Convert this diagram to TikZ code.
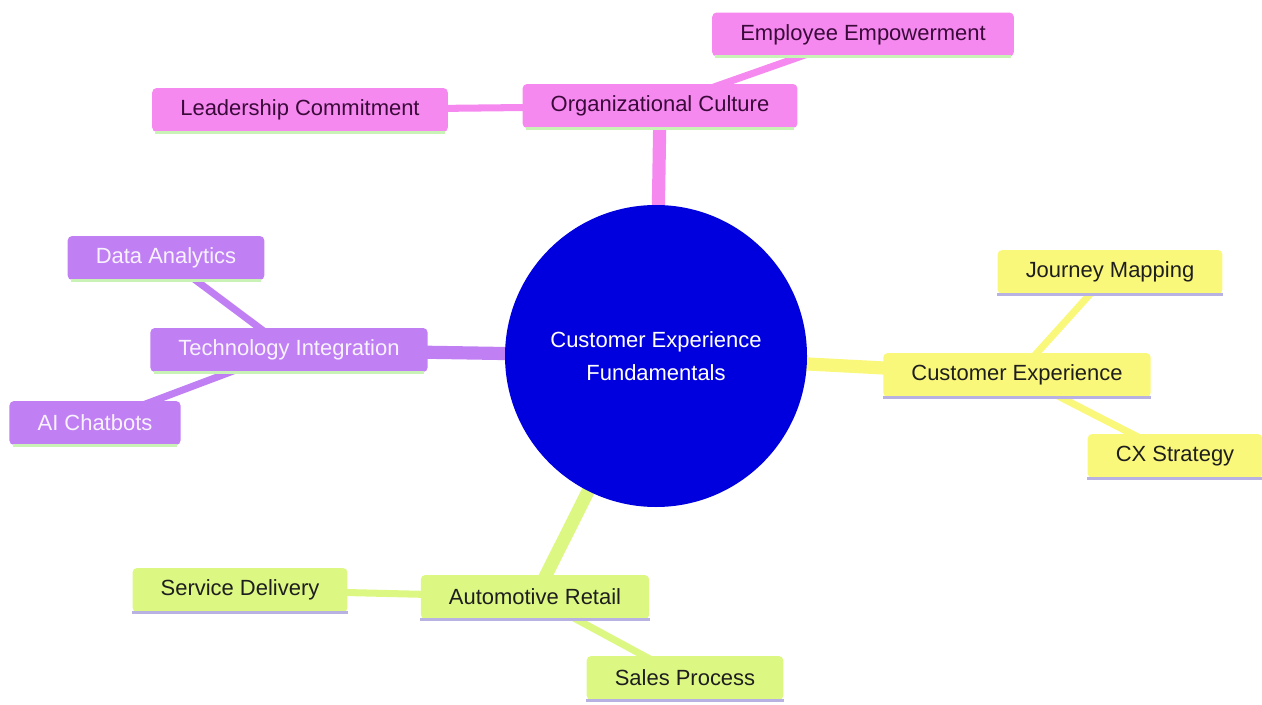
\documentclass[tikz,border=0pt]{standalone}
\usepackage{fontspec}
\setmainfont{Liberation Sans}
\usetikzlibrary{backgrounds}

\definecolor{rootblue}{HTML}{0000DE}
\definecolor{pinkfill}{HTML}{F689EF}
\definecolor{pinktext}{HTML}{3A0A3A}
\definecolor{purplefill}{HTML}{C080F4}
\definecolor{purpletext}{HTML}{F8F2FF}
\definecolor{yellowfill}{HTML}{FAF87A}
\definecolor{greenfill}{HTML}{DCF883}
\definecolor{darktext}{HTML}{1E1E1E}
\definecolor{lavline}{HTML}{B7B2E2}
\definecolor{mintline}{HTML}{C9F2B6}

\tikzset{
	mapbox/.style={rectangle, rounded corners=2.5pt, minimum height=25pt, inner xsep=16pt, inner ysep=0pt, font=\fontsize{12.5}{14}\selectfont},
	pinkbox/.style={mapbox, fill=pinkfill, text=pinktext},
	purplebox/.style={mapbox, fill=purplefill, text=purpletext},
	yellowbox/.style={mapbox, fill=yellowfill, text=darktext},
	greenbox/.style={mapbox, fill=greenfill, text=darktext},
	trunk/.style={line width=7.5pt},
	twig/.style={line width=4pt}
}

\begin{document}
\begin{tikzpicture}
			%%%%% START %%%%%
			\useasboundingbox (0, 0) rectangle (25.24, 14.08);
			
			\node[circle, fill=rootblue, minimum size=6.04cm, inner sep=0pt, align=center, text=white, font=\fontsize{12.5}{19}\selectfont] (root) at (13.12, 6.96) {Customer Experience\\Fundamentals};
			
			\node[pinkbox] (culture) at (13.20, 11.96) {Organizational Culture};
			\node[pinkbox] (empower) at (17.26, 13.39) {Employee Empowerment};
			\node[pinkbox] (leader) at (6.00, 11.88) {Leadership Commitment};
			
			\node[purplebox] (tech) at (5.78, 7.08) {Technology Integration};
			\node[purplebox] (analytics) at (3.32, 8.92) {Data Analytics};
			\node[purplebox] (chatbots) at (1.90, 5.62) {AI Chatbots};
			
			\node[yellowbox] (custexp) at (20.34, 6.58) {Customer Experience};
			\node[yellowbox] (journey) at (22.20, 8.64) {Journey Mapping};
			\node[yellowbox] (cxstrat) at (23.50, 4.96) {CX Strategy};
			
			\node[greenbox] (retail) at (10.70, 2.14) {Automotive Retail};
			\node[greenbox] (service) at (4.80, 2.28) {Service Delivery};
			\node[greenbox] (sales) at (13.70, 0.52) {Sales Process};
			
			% bottom edges of the boxes
			\foreach \n in {culture, empower, leader, tech, analytics, chatbots}
				\draw[line width=1.6pt, color=mintline] ([xshift=2pt]\n.south west) -- ([xshift=-2pt]\n.south east);
			\foreach \n in {custexp, journey, cxstrat, retail, service, sales}
				\draw[line width=2pt, color=lavline] (\n.south west) -- (\n.south east);
			
			\begin{pgfonlayer}{background}
				\draw[trunk, color=pinkfill] (root.center) -- (culture.center);
				\draw[twig, color=pinkfill] (culture.center) -- (empower.center);
				\draw[twig, color=pinkfill] (culture.center) -- (leader.center);
				
				\draw[trunk, color=purplefill] (root.center) -- (tech.center);
				\draw[twig, color=purplefill] (tech.center) -- (analytics.center);
				\draw[twig, color=purplefill] (tech.center) -- (chatbots.center);
				
				\draw[trunk, color=yellowfill] (root.center) -- (custexp.center);
				\draw[twig, color=yellowfill] (custexp.center) -- (journey.center);
				\draw[twig, color=yellowfill] (custexp.center) -- (cxstrat.center);
				
				\draw[trunk, color=greenfill] (root.center) -- (retail.center);
				\draw[twig, color=greenfill] (retail.center) -- (service.center);
				\draw[twig, color=greenfill] (retail.center) -- (sales.center);
			\end{pgfonlayer}
			
			%%%%% END %%%%%
		\end{tikzpicture}
\end{document}
